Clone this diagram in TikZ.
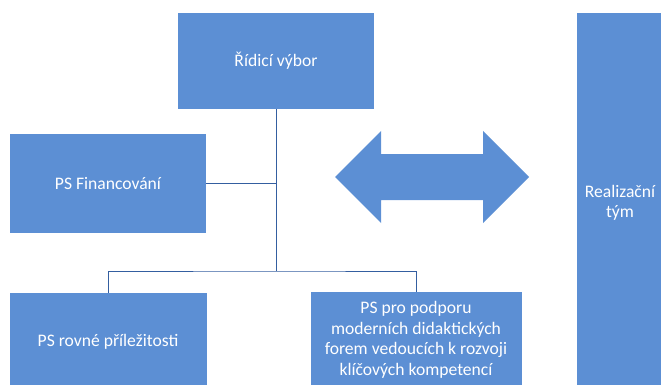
\documentclass[tikz,border=0pt]{standalone}
\usepackage{fontspec}
\setmainfont{Carlito}
\definecolor{boxblue}{RGB}{92,143,212}
\definecolor{lineblue}{RGB}{52,94,160}
\begin{document}
\begin{tikzpicture}[x=1pt,y=-1pt,
  box/.style={fill=boxblue, text=white, align=center, inner sep=0pt,
    font=\fontsize{17.6}{20.5}\selectfont},
  link/.style={draw=lineblue, line width=0.9pt}]
\useasboundingbox (0,0) rectangle (661,385);
\clip (0,0) rectangle (661,385);

\node[box, minimum width=196, minimum height=96] (ridici) at (276,61) {Řídicí výbor};
\node[box, minimum width=196, minimum height=99] (fin) at (108,183.5) {PS Financování};
\node[box, minimum width=197, minimum height=98] (rovne) at (108,342) {PS rovné příležitosti};
\node[box, minimum width=211, minimum height=96] (podporu) at (416,340) {PS pro podporu\\moderních didaktických\\forem vedoucích k rozvoji\\klíčových kompetencí};
\node[box, minimum width=86, minimum height=380] (tym) at (620,203) {Realizační\\tým};
\coordinate (bar) at (276,271);

\path[link] (ridici) -- (bar);
\path[link] (fin) -- (fin -| ridici);
\path[link] (rovne.north) |- (bar) -| (podporu.north);

\fill[boxblue] (335,177) -- (381,131) -- (381,154) -- (483,154) -- (483,131)
  -- (529,177) -- (483,223) -- (483,200) -- (381,200) -- (381,223) -- cycle;
\end{tikzpicture}
\end{document}
